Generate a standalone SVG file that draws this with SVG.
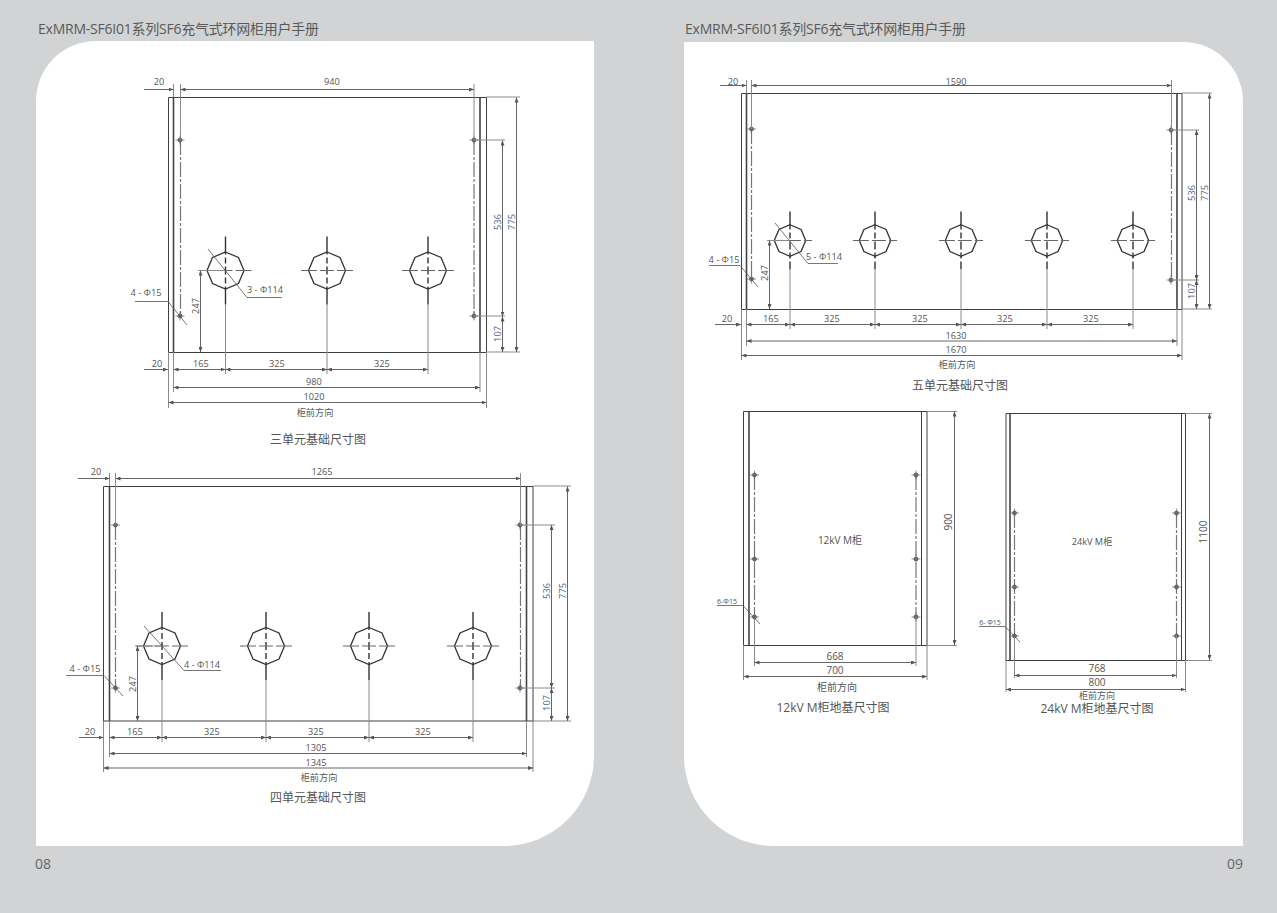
<svg xmlns="http://www.w3.org/2000/svg" width="1277" height="913" viewBox="0 0 1277 913">
<style>
text{font-family:"Open Sans","Noto Sans CJK SC",sans-serif;fill:#555;text-anchor:middle;font-size:9.2px}
.h{font-size:14px;text-anchor:start;fill:#5a5a5a}
.pg{font-size:14px;fill:#666}
.ti{font-size:12px;fill:#555}
.bl{fill:#4a6186}
.sm{font-size:7px}
.o{fill:none;stroke:#3f3f3f;stroke-width:1}
.hv{fill:none;stroke:#444;stroke-width:1.6}
.x{fill:none;stroke:#8a8a8a;stroke-width:1}
.l{fill:none;stroke:#555;stroke-width:.8}
.d{fill:none;stroke:#666;stroke-width:1;marker-start:url(#a);marker-end:url(#a)}
.e{fill:none;stroke:#666;stroke-width:1;marker-end:url(#a)}
.c{fill:none;stroke:#777;stroke-width:1.2;stroke-dasharray:15 2 3 2}
.cv{fill:none;stroke:#333;stroke-width:1.4;stroke-dasharray:18 3 6 3 8 3 6 3 18;vector-effect:non-scaling-stroke}
.ch{fill:none;stroke:#666;stroke-width:1;stroke-dasharray:16 3 14 3 16;vector-effect:non-scaling-stroke}
.oc{fill:#fff;stroke:#333;stroke-width:1.3;vector-effect:non-scaling-stroke}
</style>
<defs>
<marker id="a" markerUnits="userSpaceOnUse" markerWidth="6" markerHeight="4" refX="5" refY="2" orient="auto-start-reverse"><path d="M0 0L5 2L0 4Z" fill="#555"/></marker>
<g id="k">
<path class="oc" d="M0-18.5L13-13L18.5 0L13 13L0 18.5L-13 13L-18.5 0L-13-13Z"/>
<path class="cv" d="M0-34V34"/>
<path class="ch" d="M-26 0H26"/>
</g>
<g id="p">
<circle r="2" fill="#777" stroke="#444" stroke-width=".7"/>
<path d="M-4.5 0H4.5M0-4.5V4.5" stroke="#666" stroke-width=".7" fill="none"/>
</g>
</defs>
<rect id="bg" width="1277" height="913" fill="#d1d3d4"/>
<path id="page-left" d="M96 41H594V756A90 90 0 0 1 504 846H36V101A60 60 0 0 1 96 41Z" fill="#fff"/>
<path id="page-right" d="M684 42H1183A60 60 0 0 1 1243 102V846H774A90 90 0 0 1 684 756Z" fill="#fff"/>
<text class="h" x="38" y="34" textLength="281" lengthAdjust="spacing">ExMRM-SF6I01系列SF6充气式环网柜用户手册</text>
<text class="h" x="685" y="34" textLength="281" lengthAdjust="spacing">ExMRM-SF6I01系列SF6充气式环网柜用户手册</text>
<text class="pg" x="43" y="869">08</text>
<text class="pg" x="1235" y="869">09</text>

<g id="three-unit">
<path class="o" d="M168.5 97.5H486.5V352.5H168.5Z"/>
<path class="hv" d="M173.5 97V352M480 97V352"/>
<path class="c" d="M180.5 140V316M474 140V316"/>
<use href="#p" x="180" y="140"/><use href="#p" x="180" y="316"/><use href="#p" x="474" y="140"/><use href="#p" x="474" y="316"/>
<use href="#k" x="225.5" y="270.5"/><use href="#k" x="327" y="270.5"/><use href="#k" x="428" y="270.5"/>
<path class="x" d="M173.5 84V97M180.5 84V140M474 84V140M474 140H505M474 316H505M486 97H520M486 352H520M198 270.5H225M168.5 352V408M173.5 352V392M225.5 304V374M327 304V374M428 304V374M480 352V392M486.5 352V408"/>
<path class="e" d="M144 89.5H173.5"/><path class="d" d="M180.5 89.5H474"/>
<path class="d" d="M502.5 140.5V316.5"/><path class="d" d="M502.5 316.5V352"/><path class="d" d="M516.5 97.5V352"/>
<path class="e" d="M144 369.5H168"/><path class="d" d="M173.5 369.5H225.5"/><path class="d" d="M225.5 369.5H327"/><path class="d" d="M327 369.5H428"/>
<path class="d" d="M173.5 387.5H480"/><path class="d" d="M168.5 402.5H486.5"/><path class="d" d="M200.5 270.5V352"/>
<path class="l" d="M208 249L247 297.5H282M135 301.5H168L187 325"/>
<text x="159" y="85">20</text><text x="332" y="85">940</text>
<text transform="translate(500.5 222) rotate(-90)" class="bl">536</text><text transform="translate(514.5 222) rotate(-90)" class="bl">775</text><text transform="translate(500.5 334) rotate(-90)" class="bl">107</text><text transform="translate(199 306) rotate(-90)">247</text>
<text x="146" y="296">4 - Φ15</text><text x="265" y="293">3 - Φ114</text>
<text x="157" y="367">20</text><text x="201" y="367">165</text><text x="277" y="367">325</text><text x="382" y="367">325</text>
<text x="314" y="385">980</text><text x="314" y="400">1020</text><text x="315" y="416">柜前方向</text>
<text class="ti" x="318" y="444">三单元基础尺寸图</text>
</g>

<g id="four-unit">
<path class="o" d="M103.5 486.5H533V721H103.5Z"/>
<path class="hv" d="M109.5 486V721M526.5 486V721"/>
<path class="c" d="M115.5 525V688M520.5 525V688"/>
<use href="#p" x="115.5" y="525"/><use href="#p" x="115.5" y="688"/><use href="#p" x="520" y="525"/><use href="#p" x="520" y="688"/>
<use href="#k" x="162" y="646"/><use href="#k" x="266" y="646"/><use href="#k" x="369" y="646"/><use href="#k" x="473" y="646"/>
<path class="x" d="M109.5 473V486M115.5 473V525M520.5 473V525M520 525H555M520 688H555M533 486H571M533 721H571M135 646H162M103.5 721V772M109.5 721V757M162 680V742M266 680V742M369 680V742M473 680V742M526.5 721V757M533 721V772"/>
<path class="e" d="M78 478.5H109.5"/><path class="d" d="M115.5 478.5H520.5"/>
<path class="d" d="M551.5 525V688"/><path class="d" d="M551.5 688V721"/><path class="d" d="M567.5 486.5V721"/>
<path class="e" d="M79 737.5H103.5"/><path class="d" d="M109.5 737.5H162"/><path class="d" d="M162 737.5H266"/><path class="d" d="M266 737.5H369"/><path class="d" d="M369 737.5H473"/>
<path class="d" d="M109.5 753.5H526.5"/><path class="d" d="M103.5 768H533"/><path class="d" d="M137.5 646V721"/>
<path class="l" d="M144 626L184 670.5H221M66 675.5H104L123 696"/>
<text x="96" y="475">20</text><text x="322" y="475">1265</text>
<text transform="translate(549.5 591) rotate(-90)" class="bl">536</text><text transform="translate(565.5 591) rotate(-90)" class="bl">775</text><text transform="translate(549.5 703) rotate(-90)" class="bl">107</text><text transform="translate(135.5 684) rotate(-90)">247</text>
<text x="85" y="672">4 - Φ15</text><text x="202" y="668">4 - Φ114</text>
<text x="90" y="735">20</text><text x="135" y="735">165</text><text x="212" y="735">325</text><text x="316" y="735">325</text><text x="423" y="735">325</text>
<text x="316" y="751">1305</text><text x="316" y="766">1345</text><text x="319" y="781">柜前方向</text>
<text class="ti" x="318" y="802">四单元基础尺寸图</text>
</g>

<g id="five-unit">
<path class="o" d="M741.5 93.5H1182V309.5H741.5Z"/>
<path class="hv" d="M746.5 93V309M1177 93V309"/>
<path class="c" d="M751.5 129V279M1171.5 130V280"/>
<use href="#p" x="751.5" y="129"/><use href="#p" x="751.5" y="279"/><use href="#p" x="1171" y="130"/><use href="#p" x="1171" y="280"/>
<use href="#k" transform="translate(790 240.5) scale(.85)"/><use href="#k" transform="translate(875 240.5) scale(.85)"/><use href="#k" transform="translate(961 240.5) scale(.85)"/><use href="#k" transform="translate(1047 240.5) scale(.85)"/><use href="#k" transform="translate(1133 240.5) scale(.85)"/>
<path class="x" d="M746.5 80V93M751.5 80V129M1171.5 80V130M1171 130H1199M1171 280H1199M1182 93H1212M1182 309H1212M767 240.5H790M741.5 309V360M746.5 309V346M790 270V329M875 270V329M961 270V329M1047 270V329M1133 270V329M1177 309V346M1182 309V360"/>
<path class="e" d="M720 85.5H746.5"/><path class="d" d="M751.5 85.5H1171.5"/>
<path class="d" d="M1196.5 130V280"/><path class="d" d="M1196.5 280V309"/><path class="d" d="M1209.5 93.5V309"/>
<path class="e" d="M715 324.5H741"/><path class="d" d="M746.5 324.5H790"/><path class="d" d="M790 324.5H875"/><path class="d" d="M875 324.5H961"/><path class="d" d="M961 324.5H1047"/><path class="d" d="M1047 324.5H1133"/>
<path class="d" d="M746.5 341H1177"/><path class="d" d="M741.5 355.5H1182"/><path class="d" d="M769.5 240.5V309"/>
<path class="l" d="M775 223L808 263.5H838M709 265.5H740L758 287"/>
<text x="733" y="85">20</text><text x="956" y="85">1590</text>
<text transform="translate(1195 193) rotate(-90)" class="bl">536</text><text transform="translate(1208 193) rotate(-90)" class="bl">775</text><text transform="translate(1195 291) rotate(-90)" class="bl">107</text><text transform="translate(768 273) rotate(-90)">247</text>
<text x="724" y="263">4 - Φ15</text><text x="824" y="260">5 - Φ114</text>
<text x="727" y="322">20</text><text x="771" y="322">165</text><text x="832" y="322">325</text><text x="920" y="322">325</text><text x="1005" y="322">325</text><text x="1091" y="322">325</text>
<text x="956" y="339">1630</text><text x="956" y="353">1670</text><text x="957" y="368">柜前方向</text>
<text class="ti" x="960" y="390">五单元基础尺寸图</text>
</g>

<g id="m-12kv">
<path class="o" d="M743.5 411.5H927V645.5H743.5Z"/>
<path class="hv" d="M749 411V645"/>
<path class="o" d="M921.5 411V645"/>
<path class="c" d="M754.5 475V617M916 475V617"/>
<use href="#p" x="754.5" y="475"/><use href="#p" x="754.5" y="559"/><use href="#p" x="754.5" y="617"/><use href="#p" x="916" y="475"/><use href="#p" x="916" y="559"/><use href="#p" x="916" y="617"/>
<path class="x" d="M927 411.5H957M927 645.5H957M743.5 645V680M754.5 617V666M916 617V666M927 645V680"/>
<path class="d" d="M954.5 411.5V645"/><path class="d" d="M754.5 662.5H916"/><path class="d" d="M743.5 676.5H927"/>
<path class="l" d="M717 605.5H743L760 624"/>
<text class="sm" x="727" y="604">6-Φ15</text>
<text transform="translate(952 522) rotate(-90)" style="font-size:10px">900</text>
<text x="840" y="544" style="font-size:10px">12kV M柜</text>
<text x="835" y="660" style="font-size:10px">668</text><text x="835" y="674" style="font-size:10px">700</text>
<text x="837" y="691" style="font-size:10px">柜前方向</text>
<text class="ti" x="833" y="712">12kV M柜地基尺寸图</text>
</g>

<g id="m-24kv">
<path class="o" d="M1006 413.5H1185.5V660.5H1006Z"/>
<path class="hv" d="M1010 413V660"/>
<path class="o" d="M1181.5 413V660"/>
<path class="c" d="M1014.5 513V636M1176.5 513V636"/>
<use href="#p" x="1014.5" y="513"/><use href="#p" x="1014.5" y="587"/><use href="#p" x="1014.5" y="636"/><use href="#p" x="1176.5" y="513"/><use href="#p" x="1176.5" y="587"/><use href="#p" x="1176.5" y="636"/>
<path class="x" d="M1185.5 413.5H1212M1185.5 660.5H1212M1006 660V692M1014.5 636V678M1176.5 636V678M1185.5 660V692"/>
<path class="d" d="M1209.5 413.5V660"/><path class="d" d="M1014.5 675.5H1176.5"/><path class="d" d="M1006 689.5H1185.5"/>
<path class="l" d="M979 626.5H1005L1020 642"/>
<text class="sm" x="990" y="625">6- Φ15</text>
<text transform="translate(1207 532) rotate(-90)" style="font-size:10px">1100</text>
<text x="1092" y="545">24kV M柜</text>
<text x="1097" y="672" style="font-size:10px">768</text><text x="1097" y="686" style="font-size:10px">800</text>
<text x="1097" y="699" style="font-size:9px">柜前方向</text>
<text class="ti" x="1097" y="712.5">24kV M柜地基尺寸图</text>
</g>
</svg>
